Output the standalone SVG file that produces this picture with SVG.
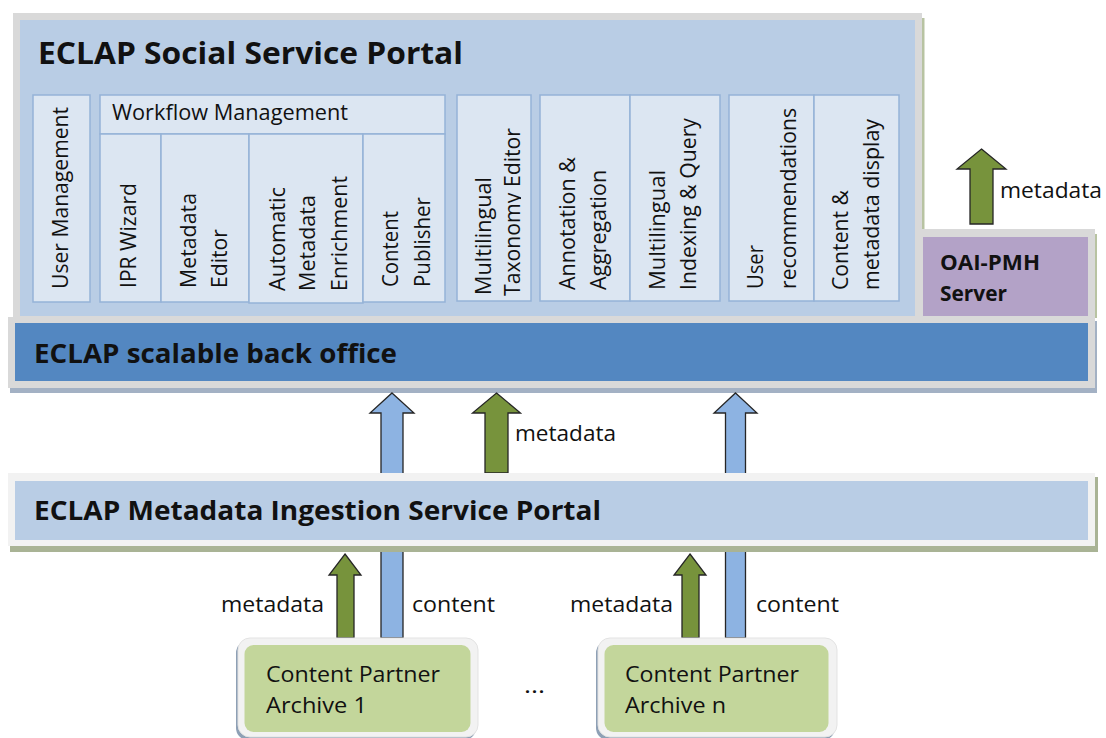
<svg xmlns="http://www.w3.org/2000/svg" width="1106" height="738" viewBox="0 0 1106 738">
<style>
text{font-family:"Open Sans","Liberation Sans",sans-serif;fill:#111;}
.t{font-size:21px;}
.l{font-size:22px;}
.b{font-weight:bold;}
.frame{fill:#d9d9d9;}
.lframe{fill:#f2f2f2;}
.portal{fill:#b9cde5;}
.mod{fill:#dce6f2;stroke:#95b3d7;stroke-width:1.5;}
.green{fill:#77933c;stroke:#262626;stroke-width:1.3;}
.blue{fill:#8db3e2;stroke:#262626;stroke-width:1.3;}
.arch{fill:#c3d69b;}
</style>
<defs>
<clipPath id="taxclip"><rect x="457" y="95" width="64" height="210"/></clipPath>
</defs>
<rect width="1106" height="738" fill="#ffffff"/>

<g id="social-portal">
<rect x="922" y="18" width="2.5" height="212" fill="#b8c3a2"/>
<rect class="frame" x="13" y="13" width="909" height="305"/>
<rect class="portal" x="20" y="20" width="895" height="296"/>
<text class="b" x="38" y="64" font-size="31" textLength="425" lengthAdjust="spacingAndGlyphs">ECLAP Social Service Portal</text>
</g>

<g id="user-management">
<rect class="mod" x="33" y="95" width="57" height="207"/>
<text class="t" transform="translate(68,289) rotate(-90)" textLength="182" lengthAdjust="spacingAndGlyphs">User Management</text>
</g>

<g id="workflow-management">
<rect class="mod" x="100" y="95" width="345" height="39"/>
<text class="t" x="112" y="120" textLength="236" lengthAdjust="spacingAndGlyphs">Workflow Management</text>
</g>
<g id="ipr-wizard">
<rect class="mod" x="100" y="134" width="61" height="168"/>
<text class="t" transform="translate(136,288) rotate(-90)" textLength="105" lengthAdjust="spacingAndGlyphs">IPR Wizard</text>
</g>
<g id="metadata-editor">
<rect class="mod" x="161" y="134" width="88" height="168"/>
<text class="t" transform="translate(196,288) rotate(-90)" textLength="95" lengthAdjust="spacingAndGlyphs">Metadata</text>
<text class="t" transform="translate(227,288) rotate(-90)" textLength="59" lengthAdjust="spacingAndGlyphs">Editor</text>
</g>
<g id="auto-enrichment">
<rect class="mod" x="249" y="134" width="114" height="169"/>
<text class="t" transform="translate(285,291) rotate(-90)" textLength="104" lengthAdjust="spacingAndGlyphs">Automatic</text>
<text class="t" transform="translate(315,291) rotate(-90)" textLength="96" lengthAdjust="spacingAndGlyphs">Metadata</text>
<text class="t" transform="translate(347,291) rotate(-90)" textLength="115" lengthAdjust="spacingAndGlyphs">Enrichment</text>
</g>
<g id="content-publisher">
<rect class="mod" x="363" y="134" width="82" height="168"/>
<text class="t" transform="translate(398,287) rotate(-90)" textLength="76" lengthAdjust="spacingAndGlyphs">Content</text>
<text class="t" transform="translate(430,287) rotate(-90)" textLength="90" lengthAdjust="spacingAndGlyphs">Publisher</text>
</g>
<g id="taxonomy-editor">
<rect class="mod" x="457" y="95" width="74" height="206"/>
<text class="t" transform="translate(491,295) rotate(-90)" textLength="118" lengthAdjust="spacingAndGlyphs">Multilingual</text>
<g clip-path="url(#taxclip)">
<text class="t" transform="translate(520,296) rotate(-90)" textLength="168" lengthAdjust="spacingAndGlyphs">Taxonomy Editor</text>
</g>
</g>
<g id="annotation">
<rect class="mod" x="540" y="95" width="90" height="206"/>
<text class="t" transform="translate(575,290) rotate(-90)" textLength="133" lengthAdjust="spacingAndGlyphs">Annotation &amp;</text>
<text class="t" transform="translate(606,290) rotate(-90)" textLength="120" lengthAdjust="spacingAndGlyphs">Aggregation</text>
</g>
<g id="indexing">
<rect class="mod" x="630" y="95" width="90" height="206"/>
<text class="t" transform="translate(665,290) rotate(-90)" textLength="120" lengthAdjust="spacingAndGlyphs">Multilingual</text>
<text class="t" transform="translate(696,290) rotate(-90)" textLength="172" lengthAdjust="spacingAndGlyphs">Indexing &amp; Query</text>
</g>
<g id="recommendations">
<rect class="mod" x="729" y="95" width="85" height="206"/>
<text class="t" transform="translate(763,289) rotate(-90)" textLength="44" lengthAdjust="spacingAndGlyphs">User</text>
<text class="t" transform="translate(796,289) rotate(-90)" textLength="181" lengthAdjust="spacingAndGlyphs">recommendations</text>
</g>
<g id="display">
<rect class="mod" x="814" y="95" width="85" height="206"/>
<text class="t" transform="translate(848,290) rotate(-90)" textLength="100" lengthAdjust="spacingAndGlyphs">Content &amp;</text>
<text class="t" transform="translate(879,290) rotate(-90)" textLength="171" lengthAdjust="spacingAndGlyphs">metadata display</text>
</g>

<g id="oai-pmh">
<rect x="1095" y="234" width="2" height="84" fill="#b8c3a2"/>
<rect class="frame" x="915" y="229" width="180" height="89"/>
<rect x="923" y="237" width="165" height="79" fill="#b3a2c7"/>
<text class="l b" x="940" y="270" textLength="100" lengthAdjust="spacingAndGlyphs">OAI-PMH</text>
<text class="l b" x="940" y="301" textLength="67" lengthAdjust="spacingAndGlyphs">Server</text>
</g>

<g id="back-office">
<rect x="10" y="321" width="1087" height="72" fill="#a3b1c4"/>
<rect class="frame" x="8" y="317" width="1087" height="71"/>
<rect x="15" y="323" width="1073" height="58" fill="#5387c1"/>
<text class="b" x="34" y="363" font-size="27" textLength="363" lengthAdjust="spacingAndGlyphs">ECLAP scalable back office</text>
</g>

<g id="connectors">
<path class="green" d="M981.5,149 L1006,169 L993,169 L993,224 L970,224 L970,169 L957,169 Z"/>
<text class="l" x="1000" y="198" textLength="102" lengthAdjust="spacingAndGlyphs">metadata</text>
<path class="blue" d="M392,393 L414,413 L403,413 L403,638 L381,638 L381,413 L370,413 Z"/>
<path class="blue" d="M735.5,393 L757,413 L745.5,413 L745.5,638 L725.5,638 L725.5,413 L714,413 Z"/>
<path class="green" d="M496.5,393 L520.5,413 L508,413 L508,473 L485,473 L485,413 L472.5,413 Z"/>
<text class="l" x="515" y="441" textLength="101" lengthAdjust="spacingAndGlyphs">metadata</text>
</g>

<g id="ingestion-portal">
<rect x="10" y="477" width="1088" height="75" fill="#a9b395"/>
<rect class="lframe" x="8" y="473" width="1087" height="73"/>
<rect class="portal" x="15" y="481" width="1073" height="59"/>
<text class="b" x="34" y="520" font-size="27" textLength="567" lengthAdjust="spacingAndGlyphs">ECLAP Metadata Ingestion Service Portal</text>
</g>

<g id="connectors-bottom">
<path class="green" d="M345,554 L361,575 L354,575 L354,638 L337,638 L337,575 L329,575 Z"/>
<path class="green" d="M690,554 L706,575 L699,575 L699,638 L682,638 L682,575 L674,575 Z"/>
<text class="l" x="221" y="612" textLength="103" lengthAdjust="spacingAndGlyphs">metadata</text>
<text class="l" x="412" y="612" textLength="83" lengthAdjust="spacingAndGlyphs">content</text>
<text class="l" x="570" y="612" textLength="103" lengthAdjust="spacingAndGlyphs">metadata</text>
<text class="l" x="756" y="612" textLength="83" lengthAdjust="spacingAndGlyphs">content</text>
</g>

<g id="archive-1">
<rect x="236" y="641" width="240" height="99" rx="12" fill="#8ea0b5"/>
<rect x="238" y="638" width="240" height="99" rx="12" fill="#f2f2f2" stroke="#e3e3e3" stroke-width="1"/>
<rect class="arch" x="244.5" y="645" width="226" height="87" rx="9"/>
<text class="l" x="266" y="682" textLength="174" lengthAdjust="spacingAndGlyphs">Content Partner</text>
<text class="l" x="266" y="713" textLength="101" lengthAdjust="spacingAndGlyphs">Archive 1</text>
</g>

<text id="ellipsis" class="l" x="524" y="693" textLength="21" lengthAdjust="spacingAndGlyphs">...</text>

<g id="archive-n">
<rect x="596" y="641" width="239" height="99" rx="12" fill="#8ea0b5"/>
<rect x="598" y="638" width="239" height="99" rx="12" fill="#f2f2f2" stroke="#e3e3e3" stroke-width="1"/>
<rect class="arch" x="604.5" y="645" width="224" height="87" rx="9"/>
<text class="l" x="625" y="682" textLength="174" lengthAdjust="spacingAndGlyphs">Content Partner</text>
<text class="l" x="625" y="713" textLength="101" lengthAdjust="spacingAndGlyphs">Archive n</text>
</g>
</svg>
